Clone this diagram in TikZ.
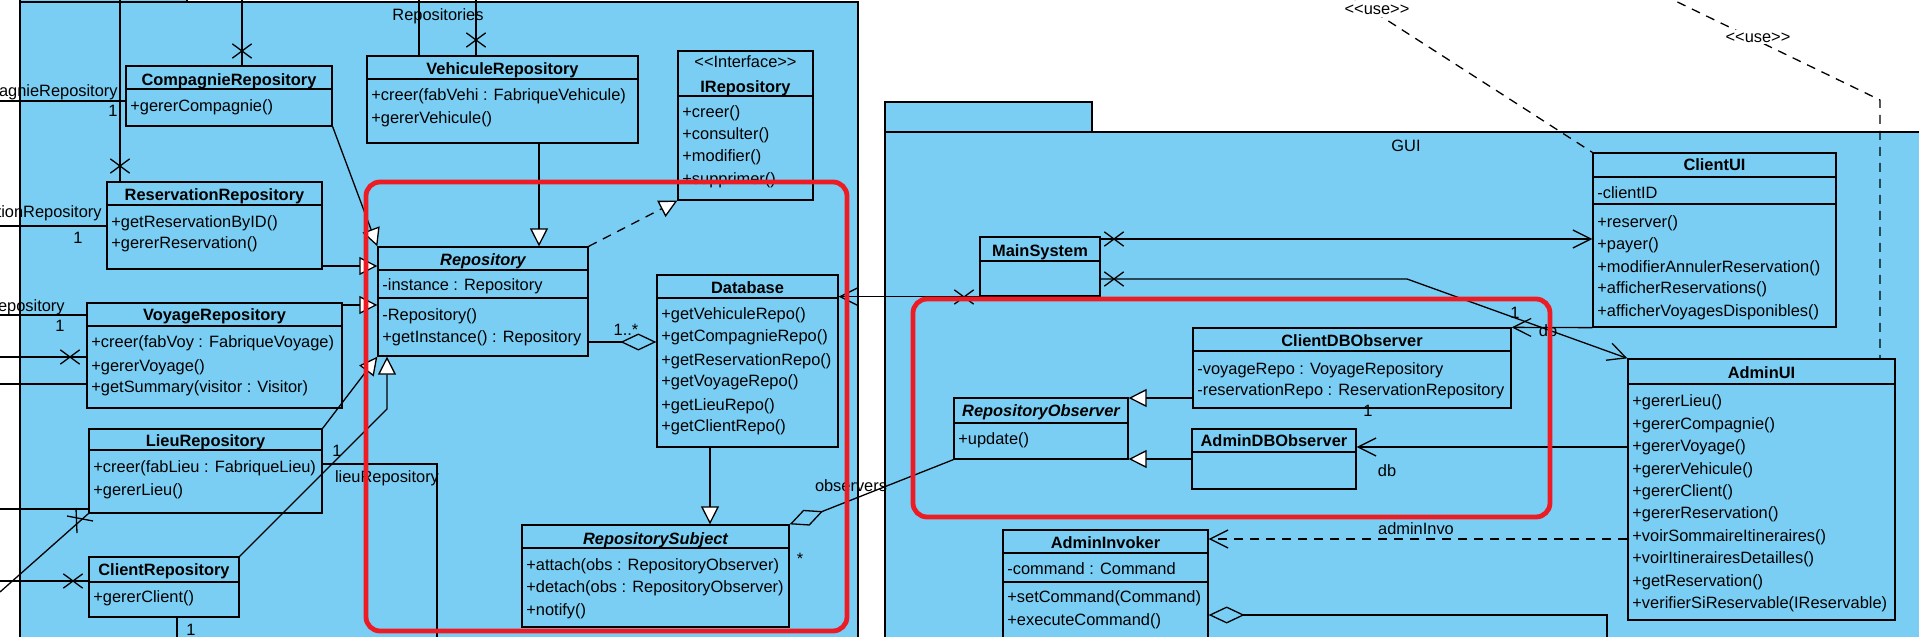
\documentclass[tikz,border=0pt]{standalone}
\usepackage{fontspec}
\setmainfont{Liberation Sans}
\usetikzlibrary{arrows.meta,fit,shapes.misc}
\definecolor{pkgblue}{RGB}{122,206,244}
\definecolor{hlred}{RGB}{237,28,36}
\newcommand\clsbox[5]{\node[cls, fit={(#2,#3) (#4,#5)}] (#1) {};}
\newcommand\csep[2]{\draw[conn] (#1.west |- 0,#2) -- (#1.east |- 0,#2);}
\newcommand\ttl[3]{\node[ttl] at (#1,#2) {#3};}
\newcommand\ttli[3]{\node[ttli] at (#1,#2) {#3};}
\newcommand\mem[3]{\node[mem] at (#1,#2) {#3};}
\begin{document}
\begin{tikzpicture}[x=0.5pt,y=-0.5pt,
  font=\fontsize{8.2}{10}\selectfont,
  conn/.style={line width=0.65pt},
  pkg/.style={draw, fill=pkgblue, line width=0.65pt, inner sep=0},
  cls/.style={draw, fill=pkgblue, line width=0.65pt, inner sep=0},
  ttl/.style={font=\fontsize{8.2}{10}\selectfont\bfseries, anchor=base, inner sep=0},
  ttli/.style={font=\fontsize{8.2}{10}\selectfont\bfseries\itshape, anchor=base, inner sep=0},
  mem/.style={font=\fontsize{8.2}{10}\selectfont, anchor=base west, inner sep=0},
  lbl/.style={font=\fontsize{8.2}{10}\selectfont, anchor=base, inner sep=0},
  gen/.style={conn, -{Triangle[length=9pt,width=9pt,fill=white]}},
  nav/.style={conn, -{Straight Barb[length=9pt,width=9pt]}},
  agg/.style={conn, {Diamond[open,length=18pt,width=8.5pt]}-},
  dsh/.style={dash pattern=on 4.5pt off 3.5pt},
  xm/.style={cross out, draw, line width=0.65pt, minimum width=9pt, minimum height=6.5pt, inner sep=0},
  hl/.style={draw=hlred, line width=2.4pt, rounded corners=7pt, inner sep=0}]
\useasboundingbox (0,0) rectangle (1919,637);
\clip (0,0) rectangle (1919,637);
\fill[white] (0,0) rectangle (1919,637);

% packages
\node[pkg, fit={(20,-30) (187,2)}] (repotab) {};
\node[pkg, fit={(20,2) (858,700)}] (repopkg) {};
\node[pkg, fit={(885,102) (1092,132)}] (guitab) {};
\node[pkg, fit={(885,132) (1960,700)}] (guipkg) {};
\node[lbl] (guilbl) at (1406,151) {GUI};
\node[lbl] (reposlbl) at (438,20) {Repositories};

% ---- classes ----
\clsbox{comprepo}{126}{66}{332}{126}
\csep{comprepo}{89}
\ttl{229}{85}{CompagnieRepository}
\mem{130}{111}{+gererCompagnie()}

\clsbox{resrepo}{107}{182}{322}{269}
\csep{resrepo}{205}
\ttl{214.5}{200}{ReservationRepository}
\mem{111}{227}{+getReservationByID()}
\mem{111}{248}{+gererReservation()}

\clsbox{vehrepo}{367}{56}{638}{143}
\csep{vehrepo}{79}
\ttl{502.5}{74}{VehiculeRepository}
\mem{371}{100}{+creer(fabVehi : FabriqueVehicule)}
\mem{371}{123}{+gererVehicule()}

\clsbox{irepo}{678}{51}{813}{200}
\csep{irepo}{96}
\node[lbl] at (745.5,68) {<\kern0pt<Interface>\kern0pt>};
\ttl{745.5}{92}{IRepository}
\mem{682}{117}{+creer()}
\mem{682}{139}{+consulter()}
\mem{682}{161}{+modifier()}
\mem{682}{184}{+supprimer()}

\clsbox{repo}{378}{247}{588}{356}
\csep{repo}{270}
\csep{repo}{298}
\ttli{483}{265}{Repository}
\mem{382}{290}{-instance : Repository}
\mem{382}{320}{-Repository()}
\mem{382}{342}{+getInstance() : Repository}

\clsbox{db}{657}{275}{838}{447}
\csep{db}{298}
\ttl{747.5}{293}{Database}
\mem{661}{319}{+getVehiculeRepo()}
\mem{661}{341}{+getCompagnieRepo()}
\mem{661}{365}{+getReservationRepo()}
\mem{661}{386}{+getVoyageRepo()}
\mem{661}{410}{+getLieuRepo()}
\mem{661}{431}{+getClientRepo()}

\clsbox{voyrepo}{87}{303}{342}{408}
\csep{voyrepo}{326}
\ttl{214.5}{320}{VoyageRepository}
\mem{91}{347}{+creer(fabVoy : FabriqueVoyage)}
\mem{91}{371}{+gererVoyage()}
\mem{91}{392}{+getSummary(visitor : Visitor)}

\clsbox{lieurepo}{89}{429}{322}{513}
\csep{lieurepo}{450}
\ttl{205.5}{446}{LieuRepository}
\mem{93}{472}{+creer(fabLieu : FabriqueLieu)}
\mem{93}{495}{+gererLieu()}

\clsbox{clientrepo}{89}{557}{239}{617}
\csep{clientrepo}{582}
\ttl{164}{575}{ClientRepository}
\mem{93}{602}{+gererClient()}

\clsbox{subject}{522}{525}{789}{627}
\csep{subject}{548}
\ttli{655.5}{544}{RepositorySubject}
\mem{526}{570}{+attach(obs : RepositoryObserver)}
\mem{526}{592}{+detach(obs : RepositoryObserver)}
\mem{526}{615}{+notify()}

\clsbox{mainsys}{980}{237}{1100}{296}
\csep{mainsys}{261}
\ttl{1040}{256}{MainSystem}

\clsbox{clientui}{1593}{153}{1836}{327}
\csep{clientui}{177}
\csep{clientui}{204}
\ttl{1714.5}{170}{ClientUI}
\mem{1597}{198}{-clientID}
\mem{1597}{227}{+reserver()}
\mem{1597}{249}{+payer()}
\mem{1597}{272}{+modifierAnnulerReservation()}
\mem{1597}{293}{+afficherReservations()}
\mem{1597}{316}{+afficherVoyagesDisponibles()}

\clsbox{clientdbobs}{1193}{328}{1511}{408}
\csep{clientdbobs}{351}
\ttl{1352}{346}{ClientDBObserver}
\mem{1197}{374}{-voyageRepo : VoyageRepository}
\mem{1197}{395}{-reservationRepo : ReservationRepository}

\clsbox{repoobs}{954}{398}{1128}{459}
\csep{repoobs}{423}
\ttli{1041}{416}{RepositoryObserver}
\mem{958}{444}{+update()}

\clsbox{admindbobs}{1192}{429}{1356}{489}
\csep{admindbobs}{452}
\ttl{1274}{446}{AdminDBObserver}

\clsbox{admininv}{1003}{530}{1208}{650}
\csep{admininv}{553}
\csep{admininv}{582}
\ttl{1105.5}{548}{AdminInvoker}
\mem{1007}{574}{-command : Command}
\mem{1007}{602}{+setCommand(Command)}
\mem{1007}{625}{+executeCommand()}

\clsbox{adminui}{1628}{359}{1895}{620}
\csep{adminui}{384}
\ttl{1761.5}{378}{AdminUI}
\mem{1632}{406}{+gererLieu()}
\mem{1632}{429}{+gererCompagnie()}
\mem{1632}{451}{+gererVoyage()}
\mem{1632}{474}{+gererVehicule()}
\mem{1632}{496}{+gererClient()}
\mem{1632}{518}{+gererReservation()}
\mem{1632}{541}{+voirSommaireItineraires()}
\mem{1632}{563}{+voirItinerairesDetailles()}
\mem{1632}{586}{+getReservation()}
\mem{1632}{608}{+verifierSiReservable(IReservable)}

% ---- connectors: left, off-picture ends ----
\draw[conn] (0,101) -- (comprepo.west |- 0,101);
\draw[conn] (0,226) -- (resrepo.west |- 0,226);
\draw[conn] (0,315) -- (voyrepo.west |- 0,315);
\draw[conn] (0,357) -- (voyrepo.west |- 0,357);
\draw[conn] (0,384) -- (voyrepo.west |- 0,384);
\draw[conn] (0,509) -- (lieurepo.west |- 0,509);
\draw[conn] (0,592) -- (lieurepo.south west);
\draw[conn] (0,581) -- (clientrepo.west |- 0,581);
\draw[conn] (clientrepo.south -| 177,0) -- (177,645);
\draw[conn] (120,-5) -- (resrepo.north -| 120,0);
\draw[conn] (242,-5) -- (comprepo.north -| 242,0);
\draw[conn] (419,-5) -- (vehrepo.north -| 419,0);
\draw[conn] (476,-5) -- (vehrepo.north -| 476,0);
\draw[conn] (lieurepo.east |- 0,464) -- (437,464) -- (437,645);

% ---- generalizations / realizations ----
\draw[gen] (comprepo.south east) -- (repo.north west);
\draw[gen] (resrepo.east |- 0,266) -- (repo.west |- 0,266);
\draw[gen] (voyrepo.east |- 0,305) -- (repo.west |- 0,305);
\draw[gen] (vehrepo.south -| 539,0) -- (repo.north -| 539,0);
\draw[gen] (lieurepo.north east) -- (repo.south west);
\draw[gen] (clientrepo.north east) -- (387,409) -- (repo.south -| 387,0);
\draw[gen, dsh] (repo.north east) -- (irepo.south west);
\draw[gen] (db.south -| 710,0) -- (subject.north -| 710,0);
\draw[gen] (clientdbobs.west |- 0,398) -- (repoobs.east |- 0,398);
\draw[gen] (admindbobs.west |- 0,459) -- (repoobs.east |- 0,459);

% ---- aggregations ----
\draw[agg] (db.west |- 0,342) -- (repo.east |- 0,342);
\draw[agg] (subject.north east) -- (repoobs.south west);
\draw[agg] (admininv.east |- 0,615) -- (1607,615) -- (1607,645);

% ---- navigable associations ----
\draw[nav] (mainsys.south west) -- (db.east |- mainsys.south west);
\draw[nav] (mainsys.east |- 0,239) -- (clientui.west |- 0,239);
\draw[nav] (mainsys.east |- 0,279) -- (1407,279) -- (adminui.north west);
\draw[nav] (clientui.south west) -- (clientdbobs.north east);
\draw[nav] (adminui.west |- 0,447) -- (admindbobs.east |- 0,447);
\draw[nav, dsh] (adminui.west |- 0,539) -- (admininv.east |- 0,539);

% ---- use dependencies ----
\draw[conn, dsh] (1348,-5) -- (clientui.north west);
\draw[conn, dsh] (1663,-5) -- (1880,100) -- (adminui.north -| 1880,0);
\node[lbl, fill=white, inner sep=1pt] (use1) at (1377,15) {<\kern0pt<use>\kern0pt>};
\node[lbl, fill=white, inner sep=1pt] (use2) at (1758,42) {<\kern0pt<use>\kern0pt>};

% ---- crosses ----
\node[xm] (x1) at (120,166) {};
\node[xm] (x2) at (242,51) {};
\node[xm] (x3) at (476,40) {};
\node[xm] (x4) at (70,357) {};
\node[xm] (x5) at (73,581) {};
\node[xm] (x6) at (1114,239) {};
\node[xm] (x7) at (1114,279) {};
\node[xm] (x8) at (964,297) {};
\draw[conn] (67,516) -- (93,521);
\draw[conn] (76,508) -- (77,533);

% ---- labels ----
\node[lbl, anchor=base east] (l1) at (118,97) {agnieRepository};
\node[lbl] (l2) at (113,116) {1};
\node[lbl, anchor=base east] (l3) at (102,217) {tionRepository};
\node[lbl] (l4) at (78,243) {1};
\node[lbl, anchor=base east] (l5) at (65,311) {epository};
\node[lbl] (l6) at (60,331) {1};
\node[lbl] (l7) at (337,456) {1};
\node[lbl] (l8) at (387,482) {lieuRepository};
\node[lbl] (l9) at (191,635) {1};
\node[lbl] (l10) at (626,335) {1..*};
\node[lbl] (l11) at (851,491) {observers};
\node[lbl] (l12) at (800,564) {*};
\node[lbl] (l13) at (1515,318) {1};
\node[lbl] (l14) at (1548,336) {db};
\node[lbl] (l15) at (1368,416) {1};
\node[lbl] (l16) at (1387,476) {db};
\node[lbl] (l17) at (1416,534) {adminInvo};

% ---- highlight frames ----
\node[hl, fit={(366,182) (847,631)}] (hl1) {};
\node[hl, fit={(913,299) (1550,517)}] (hl2) {};
\end{tikzpicture}
\end{document}
